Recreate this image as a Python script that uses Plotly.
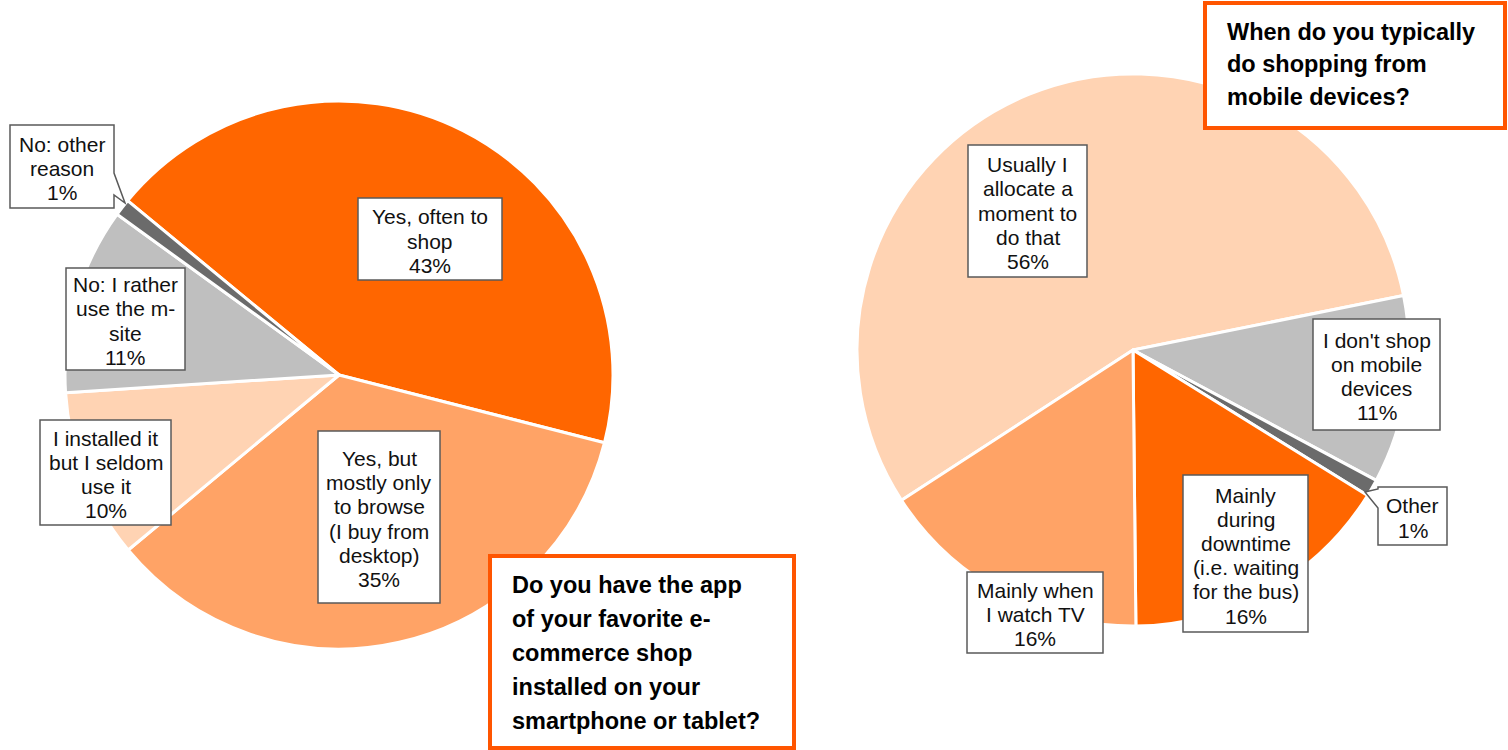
import plotly.graph_objects as go

# ---- data -------------------------------------------------------------
left_categories = [
    "Yes, often to<br>shop",
    "Yes, but<br>mostly only<br>to browse<br>(I buy from<br>desktop)",
    "I installed it<br>but I seldom<br>use it",
    "No: I rather<br>use the m-<br>site",
    "No: other<br>reason",
]
left_values = [43, 35, 10, 11, 1]

right_categories = [
    "Usually I<br>allocate a<br>moment to<br>do that",
    "I don't shop<br>on mobile<br>devices",
    "Other",
    "Mainly<br>during<br>downtime<br>(i.e. waiting<br>for the bus)",
    "Mainly when<br>I watch TV",
]
right_values = [56, 11, 1, 16, 16]

left_title = ["Do you have the app", "of your favorite e-", "commerce shop",
              "installed on your", "smartphone or tablet?"]
right_title = ["When do you typically", "do shopping from", "mobile devices?"]

# ---- styling ------------------------------------------------------------
W, H = 1508, 750
DARK_OR = "#FF6600"
LIGHT_OR = "#FFA366"
PEACH = "#FFD3B3"
GREY = "#BFBFBF"
DGREY = "#6B6B6B"
left_colors = [DARK_OR, LIGHT_OR, PEACH, GREY, DGREY]
right_colors = [PEACH, GREY, DGREY, DARK_OR, LIGHT_OR]

FONT = "Liberation Sans, Arial, sans-serif"
LABEL_SIZE = 21
LABEL_STEP = 24.2
TITLE_SIZE = 23.5
BOX_LINE = "#5A5A5A"
TITLE_LINE = "#FF5500"


def px(x):
    return x / W


def py(y):
    return 1 - y / H


def pie_domain(cx, cy, r):
    return dict(x=[px(cx - r), px(cx + r)], y=[py(cy + r), py(cy - r)])


fig = go.Figure()
fig.add_trace(go.Pie(
    labels=[c.replace("<br>", " ") for c in left_categories],
    values=left_values, sort=False, direction="clockwise", rotation=309.5,
    marker=dict(colors=left_colors, line=dict(color="white", width=3)),
    textinfo="none", hoverinfo="label+percent",
    domain=pie_domain(339, 375, 274), showlegend=False,
))
fig.add_trace(go.Pie(
    labels=[c.replace("<br>", " ") for c in right_categories],
    values=right_values, sort=False, direction="clockwise", rotation=237,
    marker=dict(colors=right_colors, line=dict(color="white", width=3)),
    textinfo="none", hoverinfo="label+percent",
    domain=pie_domain(1133, 350, 276), showlegend=False,
))

shapes = []
annotations = []


def path_from(points):
    return "M " + " L ".join(f"{px(x):.5f},{py(y):.5f}" for x, y in points) + " Z"


def label_box(text, x0, y0, w, h, tail=None):
    """White data-label box; optional callout tail given as extra outline points."""
    x1, y1 = x0 + w, y0 + h
    if tail is None:
        pts = [(x0, y0), (x1, y0), (x1, y1), (x0, y1)]
    else:
        side, pts_tail = tail
        if side == "right":
            pts = [(x0, y0), (x1, y0)] + pts_tail + [(x1, y1), (x0, y1)]
        else:  # left edge, walking upward
            pts = [(x0, y0), (x1, y0), (x1, y1), (x0, y1)] + pts_tail
    shapes.append(dict(type="path", xref="paper", yref="paper", path=path_from(pts),
                       fillcolor="white", line=dict(color=BOX_LINE, width=1.5),
                       layer="above"))
    lines = text.split("<br>")
    cx, cy = x0 + w / 2, y0 + h / 2 + 2
    n = len(lines)
    for i, ln in enumerate(lines):
        yy = cy + (i - (n - 1) / 2) * LABEL_STEP
        annotations.append(dict(x=px(cx), y=py(yy), xref="paper", yref="paper",
                                text=ln, showarrow=False, xanchor="center",
                                yanchor="middle",
                                font=dict(family=FONT, size=LABEL_SIZE, color="#111111")))


def title_box(lines, x0, y0, x1, y1, tx, ty0, step):
    shapes.append(dict(type="rect", xref="paper", yref="paper",
                       x0=px(x0), x1=px(x1), y0=py(y1), y1=py(y0),
                       fillcolor="white", line=dict(color=TITLE_LINE, width=4),
                       layer="above"))
    for i, ln in enumerate(lines):
        annotations.append(dict(x=px(tx), y=py(ty0 + i * step), xref="paper", yref="paper",
                                text=f"<b>{ln}</b>", showarrow=False, xanchor="left",
                                yanchor="middle",
                                font=dict(family=FONT, size=TITLE_SIZE, color="black")))


def fmt(cat, val):
    return f"{cat}<br>{val}%"


# left pie labels
left_boxes = [
    (358, 198, 144, 82, None),
    (318, 431, 122, 172, None),
    (40, 420, 131, 105, None),
    (66, 268, 119, 102, None),
    (10, 125, 104, 83, ("right", [(114, 173), (125, 203), (114, 195)])),
]
for cat, val, (x0, y0, w, h, tail) in zip(left_categories, left_values, left_boxes):
    label_box(fmt(cat, val), x0, y0, w, h, tail)

# right pie labels
right_boxes = [
    (968, 145, 119, 132, None),
    (1313, 319, 127, 111, None),
    (1378, 487, 69, 58, ("left", [(1378, 508), (1365, 492), (1378, 489)])),
    (1183, 475, 125, 157, None),
    (967, 572, 136, 81, None),
]
for cat, val, (x0, y0, w, h, tail) in zip(right_categories, right_values, right_boxes):
    label_box(fmt(cat, val), x0, y0, w, h, tail)

title_box(left_title, 490, 556, 794, 748, 510, 585, 34)
title_box(right_title, 1205, 3, 1505, 128, 1225, 32, 32.5)

fig.update_layout(
    width=W, height=H, autosize=False,
    margin=dict(l=0, r=0, t=0, b=0),
    paper_bgcolor="white", plot_bgcolor="white",
    shapes=shapes, annotations=annotations,
    font=dict(family=FONT),
)

fig.write_html("out.html")
